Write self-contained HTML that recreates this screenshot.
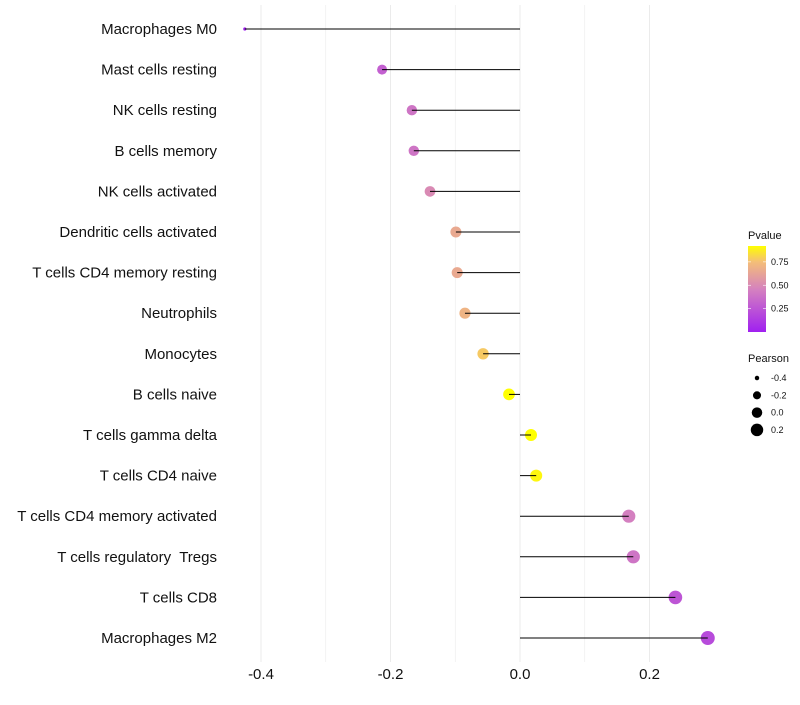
<!DOCTYPE html>
<html><head><meta charset="utf-8"><style>
body{margin:0;background:#fff;font-family:"Liberation Sans",sans-serif}
text{white-space:pre}
</style></head><body>
<svg id="c" width="800" height="700" xmlns="http://www.w3.org/2000/svg"></svg>
<script>
const cells=["Macrophages M0","Mast cells resting","NK cells resting","B cells memory","NK cells activated","Dendritic cells activated","T cells CD4 memory resting","Neutrophils","Monocytes","B cells naive","T cells gamma delta","T cells CD4 naive","T cells CD4 memory activated","T cells regulatory  Tregs","T cells CD8","Macrophages M2"];
const pearson=[-0.425,-0.213,-0.167,-0.164,-0.139,-0.099,-0.097,-0.085,-0.057,-0.017,0.017,0.025,0.168,0.175,0.24,0.29];
const pvalue=[0.0,0.3,0.4,0.4,0.5,0.65,0.65,0.7,0.78,0.92,0.92,0.9,0.45,0.4,0.25,0.2];
const xTicks=[-0.4,-0.2,0.0,0.2];
const xMinor=[-0.3,-0.1,0.1];
const colorTicks=[0.25,0.5,0.75];
const sizeTicks=[-0.4,-0.2,0.0,0.2];
const NS="http://www.w3.org/2000/svg",svg=document.getElementById('c');
function el(t,a,p){const e=document.createElementNS(NS,t);for(const k in a)e.setAttribute(k,a[k]);(p||svg).appendChild(e);return e;}
const x=v=>520+v*647.5;
const y=i=>29+i*40.6;
const r=v=>{const b=Math.sqrt(14.6+47.7*(v+0.43));return v<-0.3?Math.max(1.5,b-(-0.3-v)*18):b;};
const rl=v=>Math.sqrt(4+(v+0.43)*70)*0.9;
const stops=[[0,[160,32,240]],[0.45,[212,128,192]],[0.75,[244,190,120]],[0.92,[255,255,0]]];
function col(p){p=Math.max(0,Math.min(0.92,p));for(let i=1;i<stops.length;i++){if(p<=stops[i][0]){const a=stops[i-1],b=stops[i],t=(p-a[0])/(b[0]-a[0]);const c=a[1].map((v,j)=>Math.round(v+(b[1][j]-v)*t));return`rgb(${c})`;}}return'rgb(255,255,0)';}
xTicks.concat(xMinor).forEach(t=>{const g=el('line',{x1:x(t),x2:x(t),y1:5,y2:662,stroke:'#ebebeb','stroke-width':xMinor.includes(t)?0.6:1});});
xTicks.forEach(t=>{const e=el('text',{x:x(t),y:679,'text-anchor':'middle','font-size':15,fill:'#111'});e.textContent=t.toFixed(1);});
cells.forEach((c,i)=>{
 const t=el('text',{x:217,y:y(i)+5,'text-anchor':'end','font-size':15,fill:'#111'});t.textContent=c;
 
 const p=el('circle',{cx:x(pearson[i]),cy:y(i),r:r(pearson[i]),fill:col(pvalue[i])});
 
 const l=el('line',{x1:x(0),x2:x(pearson[i]),y1:y(i),y2:y(i),stroke:'#000','stroke-width':1});
 
});
let tt=el('text',{x:748,y:239,'font-size':11,fill:'#111'});tt.textContent='Pvalue';
const defs=el('defs',{});const lg=el('linearGradient',{id:'g',x1:0,y1:1,x2:0,y2:0},defs);
stops.forEach(s=>el('stop',{offset:s[0]/0.92,'stop-color':col(s[0])},lg));
const cb=el('rect',{x:748,y:246,width:18,height:86,fill:'url(#g)'});
const cy=p=>332-p*93.5;
colorTicks.forEach(p=>{el('line',{x1:748,x2:751,y1:cy(p),y2:cy(p),stroke:'#fff','stroke-width':0.6});el('line',{x1:763,x2:766,y1:cy(p),y2:cy(p),stroke:'#fff','stroke-width':0.6});const e=el('text',{x:771,y:cy(p)+3,'font-size':9,fill:'#111'});e.textContent=p.toFixed(2);});
tt=el('text',{x:748,y:362,'font-size':11,fill:'#111'});tt.textContent='Pearson';
sizeTicks.forEach((v,i)=>{const yy=378+i*17.3;const c=el('circle',{cx:757,cy:yy,r:rl(v),fill:'#000'});const e=el('text',{x:771,y:yy+3,'font-size':9,fill:'#111'});e.textContent=v.toFixed(1);});
</script>
</body></html>
